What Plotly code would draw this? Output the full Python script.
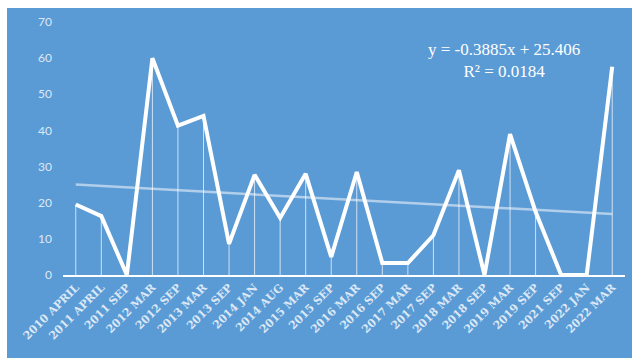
import plotly.graph_objects as go

categories = ["2010 APRIL", "2011 APRIL", "2011 SEP", "2012 MAR", "2012 SEP", "2013 MAR",
              "2013 SEP", "2014 JAN", "2014 AUG", "2015 MAR", "2015 SEP", "2016 MAR",
              "2016 SEP", "2017 MAR", "2017 SEP", "2018 MAR", "2018 SEP", "2019 MAR",
              "2019 SEP", "2021 SEP", "2022 JAN", "2022 MAR"]
values = [19.5, 16.3, 0, 60, 41.3, 44, 8.6, 27.7, 15.8, 28, 5, 28.5,
          3.3, 3.3, 11, 29, 0, 39, 17.5, 0, 0, 57.6]
slope = -0.3885
intercept = 25.406
y_ticks = [0, 10, 20, 30, 40, 50, 60, 70]

trend = [slope * (i + 1) + intercept for i in range(len(categories))]

BLUE = "#5b9bd5"
LABEL = "#dce8f5"

fig = go.Figure()
fig.add_trace(go.Scatter(
    x=categories, y=trend, mode="lines",
    line=dict(color="rgba(235,242,250,0.6)", width=2.5),
    hoverinfo="skip", showlegend=False))
fig.add_trace(go.Scatter(
    x=categories, y=values, mode="lines",
    line=dict(color="white", width=4),
    error_y=dict(type="data", symmetric=False, array=[0] * len(values),
                 arrayminus=values, color="rgba(255,255,255,0.7)", thickness=1, width=0),
    showlegend=False))

fig.add_annotation(xref="paper", yref="paper", x=0.784, y=0.935, xanchor="center", yanchor="top",
                   text="y = -0.3885x + 25.406<br>R² = 0.0184", showarrow=False,
                   align="center", font=dict(family="Liberation Serif", size=17, color="white"))

# white frame strips at top and left
fig.add_shape(type="rect", xref="paper", yref="paper", x0=-63/562, x1=569/562, y0=1 + 14/253, y1=1 + 22/253,
              fillcolor="white", line_width=0, layer="below")
fig.add_shape(type="rect", xref="paper", yref="paper", x0=-63/562, x1=-56/562, y0=-83/253, y1=1 + 22/253,
              fillcolor="white", line_width=0, layer="below")

fig.update_layout(
    width=632, height=358,
    margin=dict(l=63, r=7, t=22, b=83),
    paper_bgcolor=BLUE, plot_bgcolor=BLUE,
    xaxis=dict(type="category", range=[-0.5, len(categories) - 0.5], tickangle=-45,
               showgrid=False, showline=True, linecolor="white", linewidth=1.5,
               ticks="", zeroline=False,
               tickfont=dict(family="DejaVu Serif", size=11, color=LABEL, weight="bold")),
    yaxis=dict(range=[0, 70], tickvals=y_ticks, showgrid=False, zeroline=False,
               showline=False, ticks="", ticklabelstandoff=10,
               tickfont=dict(family="Lato", size=12, color=LABEL)),
)

fig.write_html("out.html")
